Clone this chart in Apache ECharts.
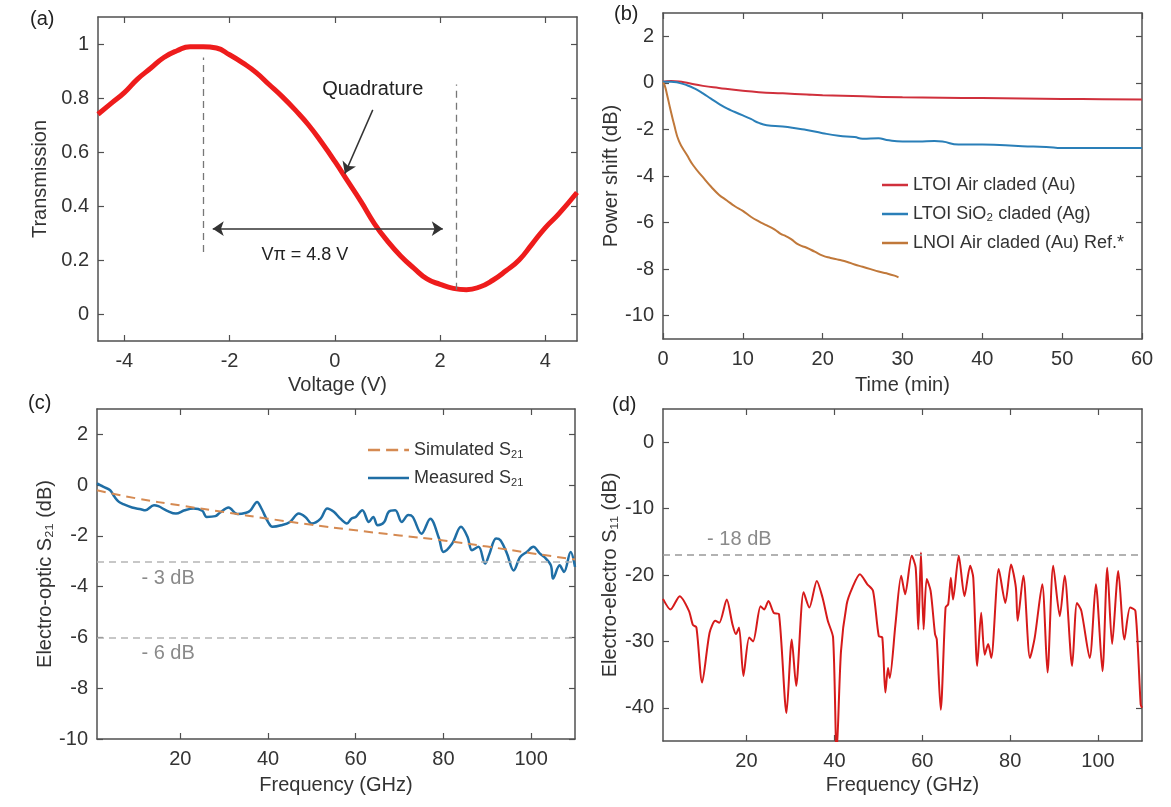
<!DOCTYPE html>
<html><head><meta charset="utf-8">
<script src="https://cdn.jsdelivr.net/npm/echarts@6/dist/echarts.min.js"></script>
<style>html,body{margin:0;padding:0;background:#fff}#c{width:1171px;height:807px}</style>
</head><body><div id="c"></div>
<script>
// ---------- Panel (a): transmission vs voltage ----------
const voltageV = [-4.5,-4.25,-4,-3.75,-3.5,-3.25,-3,-2.75,-2.5,-2.25,-2,-1.75,-1.5,-1.25,-1,-0.75,-0.5,-0.25,0,0.25,0.5,0.75,1,1.25,1.5,1.75,2,2.25,2.5,2.75,3,3.25,3.5,3.75,4,4.25,4.6];
const transmission = [0.74,0.78,0.82,0.87,0.91,0.95,0.975,0.99,0.99,0.985,0.96,0.93,0.895,0.85,0.805,0.755,0.70,0.635,0.565,0.49,0.415,0.335,0.27,0.215,0.17,0.13,0.11,0.095,0.09,0.10,0.125,0.16,0.20,0.26,0.32,0.37,0.45];
const aXTicks = [-4,-2,0,2,4];
const aYTicks = [0,0.2,0.4,0.6,0.8,1];

// ---------- Panel (b): power shift vs time ----------
const bXTicks = [0,10,20,30,40,50,60];
const bYTicks = [-10,-8,-6,-4,-2,0,2];
const redName = 'LTOI Air claded (Au)';
const redTime = [0,1,2,3,5,7,10,12,15,18,20,25,30,35,40,45,50,55,60];
const redShift = [0.05,0.08,0.06,0.0,-0.13,-0.22,-0.34,-0.4,-0.45,-0.5,-0.53,-0.58,-0.62,-0.64,-0.65,-0.67,-0.69,-0.7,-0.72];
const blueName = 'LTOI SiO₂ claded (Ag)';
const blueTime = [0,1,2,3,4,5,6,7,8,9,10,11,12,13,15,17,18,20,22,24,25,27,28,30,32,34,35,37,40,45,48,50,55,60];
const blueShift = [0.05,0.05,0.0,-0.1,-0.25,-0.45,-0.68,-0.9,-1.1,-1.25,-1.4,-1.55,-1.72,-1.82,-1.87,-1.97,-2.02,-2.16,-2.27,-2.33,-2.4,-2.38,-2.45,-2.52,-2.52,-2.5,-2.52,-2.65,-2.65,-2.72,-2.75,-2.8,-2.8,-2.8];
const orangeName = 'LNOI Air claded (Au) Ref.*';
const orangeTime = [0,0.2,0.5,0.9,1.4,2,3,3.8,5,6,7,8,9,10,11,12,13,14,14.8,15.2,16,17,18,19,20,21,22,23,24,25,26,27,28,29,29.5];
const orangeShift = [0.0,-0.1,-0.5,-1.1,-1.8,-2.5,-3.1,-3.55,-4.05,-4.45,-4.8,-5.05,-5.3,-5.5,-5.75,-5.95,-6.12,-6.3,-6.5,-6.55,-6.7,-6.95,-7.08,-7.25,-7.42,-7.52,-7.6,-7.68,-7.8,-7.9,-8.0,-8.1,-8.18,-8.28,-8.35];

// ---------- Panel (c): electro-optic S21 ----------
const cXTicks = [20,40,60,80,100];
const cYTicks = [-10,-8,-6,-4,-2,0,2];
const simFreq = [1,10,20,30,40,50,60,70,80,90,100,110];
const simS21 = [-0.2,-0.52,-0.8,-1.06,-1.32,-1.56,-1.78,-1.98,-2.18,-2.42,-2.68,-2.93];
const measFreq = [1,2.5,4,5,6,7,9,11,12,14,15,17,19,21,23,25,26,28,29,31,33,35,36,37.5,38.5,40,41,43,45,47,48.5,50,52,53.5,55,56.5,58,59,60,61.5,63,64,65,66.5,67.5,69,70.5,72,73,75,77,79,80,82,84,85.5,86.5,88,89.5,90.5,92,93,94.5,96,97.5,99,100.5,102,103,104.5,105,106.5,107.5,109,110];
const measS21 = [0.07,-0.07,-0.2,-0.46,-0.66,-0.75,-0.88,-0.95,-0.99,-0.79,-0.83,-1.01,-1.12,-0.99,-0.92,-1.01,-1.25,-1.22,-1.09,-0.88,-1.14,-1.09,-0.99,-0.66,-0.92,-1.45,-1.64,-1.58,-1.45,-1.12,-1.25,-1.51,-1.32,-0.92,-1.05,-1.32,-1.51,-1.32,-1.25,-0.99,-1.45,-1.25,-1.58,-1.45,-1.05,-0.99,-1.45,-1.18,-1.25,-1.91,-1.32,-2.1,-2.63,-2.3,-1.64,-2.04,-2.56,-2.43,-3.09,-2.7,-2.1,-2.17,-2.7,-3.36,-2.83,-2.63,-2.43,-2.7,-2.83,-3.16,-3.68,-3.16,-3.42,-2.63,-3.22];
const cRefLevels = [-3,-6];

// ---------- Panel (d): electro-electro S11 ----------
const dXTicks = [20,40,60,80,100];
const dYTicks = [-40,-30,-20,-10,0];
const s11Freq = [1,2.7,4.8,6.9,7.8,8.6,9.9,11.6,12.9,13.8,15.5,16.8,17.6,18.3,19.3,20.6,21.5,23.2,24,25,26.2,27.4,29.1,30.3,31.3,33,34.3,36,37.3,38.5,39.7,40.5,41.5,42.8,44.1,45.8,47.5,48.8,50.1,50.9,51.6,52.2,52.6,53.9,55.2,56.1,57.6,58.5,59.1,59.7,60.3,61,61.9,62.9,63.3,64.2,65.3,65.9,66.5,67,68.3,69.6,70.9,71.6,72.5,73.4,74.2,75,75.7,77.4,78.9,80.2,81.3,81.7,83,84.5,85.6,87.3,88.5,89.8,91.3,92.4,94.1,95.2,96.2,98.1,99.5,101,102.1,103.2,104.6,106,107.3,108.5,109.7,110];
const s11dB = [-23.6,-25.2,-23.2,-25.4,-27.5,-27.9,-36.2,-28.7,-26.9,-27.2,-23.7,-27.4,-28.9,-27.9,-35.2,-29.4,-30,-24.7,-25.2,-23.9,-25.7,-25.9,-40.8,-29.7,-36.7,-22.6,-24.9,-20.9,-23.4,-26.9,-29.4,-47,-31.5,-24.4,-21.9,-19.9,-21.4,-22.4,-29.2,-29.4,-37.7,-34,-35.5,-27.4,-20.1,-22.9,-17.1,-18.9,-28.2,-16.6,-28.2,-20.6,-22.4,-28.9,-29.7,-40.3,-24.9,-24.4,-20.4,-23.7,-17.1,-23.2,-18.6,-20.4,-33.7,-25.7,-32,-30.4,-32.5,-19.1,-24.2,-18.4,-21.9,-26.9,-20.1,-32.5,-29.4,-21.4,-34.7,-18.6,-26.2,-20.1,-33.7,-24.2,-25.4,-32.5,-21.4,-34.5,-18.9,-30.4,-19.4,-29.7,-24.9,-25.4,-39.5,-40];
const dRefLevel = -17;

const FONT = '"Liberation Sans", Arial, Helvetica, sans-serif';
const AX = '#505050';
const TXT = '#333';
function zip(xs, ys){ return xs.map((x,i)=>[x, ys[i]]); }

function xPair(gi, min, max, ticks, name, gap){
  const line = {show:true, onZero:false, lineStyle:{color:AX, width:1.5}};
  const tick = {show:true, inside:true, length:6, customValues:ticks, lineStyle:{color:AX, width:1.2}};
  return [
    {type:'value', gridIndex:gi, min, max, position:'bottom', splitLine:{show:false}, axisLine:line, axisTick:tick,
     name, nameLocation:'middle', nameGap:gap, nameTextStyle:{fontSize:20, color:TXT, fontFamily:FONT},
     axisLabel:{show:true, customValues:ticks, fontSize:20, color:TXT, fontFamily:FONT, margin:10}},
    {type:'value', gridIndex:gi, min, max, position:'top', splitLine:{show:false}, axisLine:line, axisTick:tick, axisLabel:{show:false}}
  ];
}
function yPair(gi, min, max, ticks, name, gap){
  const line = {show:true, onZero:false, lineStyle:{color:AX, width:1.5}};
  const tick = {show:true, inside:true, length:6, customValues:ticks, lineStyle:{color:AX, width:1.2}};
  return [
    {type:'value', gridIndex:gi, min, max, position:'left', splitLine:{show:false}, axisLine:line, axisTick:tick,
     name, nameLocation:'middle', nameGap:gap, nameTextStyle:{fontSize:20, color:TXT, fontFamily:FONT},
     axisLabel:{show:true, customValues:ticks, fontSize:20, color:TXT, fontFamily:FONT, margin:9}},
    {type:'value', gridIndex:gi, min, max, position:'right', splitLine:{show:false}, axisLine:line, axisTick:tick, axisLabel:{show:false}}
  ];
}
function textMark(x, y, text, size, color, pos){
  return {coord:[x,y], symbol:'circle', symbolSize:0,
    label:{show:true, position:pos||'inside', formatter:text, fontSize:size, color:color, fontFamily:FONT}};
}

const chart = echarts.init(document.getElementById('c'), null, {renderer:'canvas'});
const dashGray = {color:'#777', type:[7,5], width:1.3};
const arrowStyle = {color:'#333', type:'solid', width:1.5};
const SOLID_ICON = 'rect';
const DASH_ICON = 'path://M0,0h10v2h-10z M15,0h10v2h-10z M30,0h4v2h-4z';

const option = {
  animation:false,
  backgroundColor:'#fff',
  grid:[
    {left:98, top:17, width:479, height:324},
    {left:663, top:13, width:479, height:326},
    {left:97, top:409, width:478, height:330},
    {left:663, top:409, width:479, height:332}
  ],
  xAxis:[].concat(
    xPair(0, -4.5, 4.6, aXTicks, 'Voltage (V)', 34),
    xPair(1, 0, 60, bXTicks, 'Time (min)', 36),
    xPair(2, 1, 110, cXTicks, 'Frequency (GHz)', 36),
    xPair(3, 1, 110, dXTicks, 'Frequency (GHz)', 34)
  ),
  yAxis:[].concat(
    yPair(0, -0.1, 1.1, aYTicks, 'Transmission', 48),
    yPair(1, -11, 3, bYTicks, 'Power shift (dB)', 36),
    yPair(2, -10, 3, cYTicks, 'Electro-optic S₂₁ (dB)', 42),
    yPair(3, -45, 5, dYTicks, 'Electro-electro S₁₁ (dB)', 43)
  ),
  legend:[
    {data:[{name:redName, icon:SOLID_ICON},{name:blueName, icon:SOLID_ICON},{name:orangeName, icon:SOLID_ICON}],
     orient:'vertical', left:882, top:176, padding:0, itemWidth:26, itemHeight:2.5, itemGap:11,
     selectedMode:false, textStyle:{fontSize:18, color:TXT, fontFamily:FONT, lineHeight:18}},
    {data:[{name:'Simulated S21', icon:DASH_ICON},{name:'Measured S21', icon:SOLID_ICON}],
     orient:'vertical', left:368, top:440, padding:0, itemWidth:41, itemHeight:2.5, itemGap:8,
     selectedMode:false,
     formatter:n=>n.replace('S21','S{sub|21}'),
     textStyle:{fontSize:18, color:TXT, fontFamily:FONT, lineHeight:20,
       rich:{sub:{fontSize:11, color:TXT, fontFamily:FONT, verticalAlign:'bottom', lineHeight:11}}}}
  ],
  graphic:[
    {type:'text', left:30, top:9, style:{text:'(a)', fontSize:20, fill:'#222', fontFamily:FONT}},
    {type:'text', left:614, top:4, style:{text:'(b)', fontSize:20, fill:'#222', fontFamily:FONT}},
    {type:'text', left:28, top:393, style:{text:'(c)', fontSize:20, fill:'#222', fontFamily:FONT}},
    {type:'text', left:612, top:395, style:{text:'(d)', fontSize:20, fill:'#222', fontFamily:FONT}}
  ],
  series:[
    {type:'line', name:'Transmission', xAxisIndex:0, yAxisIndex:0, data:zip(voltageV, transmission), smooth:true,
     symbol:'none', lineStyle:{color:'#ee1c1c', width:5},
     markLine:{silent:true, animation:false, symbolSize:11, label:{show:false},
       data:[
         [{coord:[-2.5,0.23], symbol:'none', lineStyle:dashGray},{coord:[-2.5,0.95], symbol:'none', lineStyle:dashGray}],
         [{coord:[2.3,0.09], symbol:'none', lineStyle:dashGray},{coord:[2.3,0.85], symbol:'none', lineStyle:dashGray}],
         [{coord:[-2.32,0.316], symbol:'arrow', lineStyle:arrowStyle},{coord:[2.05,0.316], symbol:'arrow', lineStyle:arrowStyle}],
         [{coord:[0.72,0.756], symbol:'none', lineStyle:arrowStyle},{coord:[0.19,0.52], symbol:'arrow', lineStyle:arrowStyle}]
       ]},
     markPoint:{silent:true, animation:false, data:[
       textMark(0.72, 0.83, 'Quadrature', 20, '#222'),
       textMark(-0.57, 0.22, 'Vπ = 4.8 V', 18, '#222')
     ]}},
    {type:'line', name:redName, xAxisIndex:2, yAxisIndex:2, data:zip(redTime, redShift), smooth:true, symbol:'none',
     itemStyle:{color:'#d0303c'}, lineStyle:{color:'#d0303c', width:2}},
    {type:'line', name:blueName, xAxisIndex:2, yAxisIndex:2, data:zip(blueTime, blueShift), smooth:true, symbol:'none',
     itemStyle:{color:'#2a7fb8'}, lineStyle:{color:'#2a7fb8', width:2}},
    {type:'line', name:orangeName, xAxisIndex:2, yAxisIndex:2, data:zip(orangeTime, orangeShift), smooth:true, symbol:'none',
     itemStyle:{color:'#c0783a'}, lineStyle:{color:'#c0783a', width:2}},
    {type:'line', name:'Simulated S21', xAxisIndex:4, yAxisIndex:4, data:zip(simFreq, simS21), smooth:true, symbol:'none',
     itemStyle:{color:'#d58a52'}, lineStyle:{color:'#d58a52', width:2, type:[9,6]}, z:3},
    {type:'line', name:'Measured S21', xAxisIndex:4, yAxisIndex:4, data:zip(measFreq, measS21), smooth:0.35, symbol:'none',
     itemStyle:{color:'#1f6ea5'}, lineStyle:{color:'#1f6ea5', width:2.5}, z:2,
     markLine:{silent:true, animation:false, symbol:'none', label:{show:false},
       lineStyle:{color:'#b5b5b5', type:[7,5], width:1.5},
       data:cRefLevels.map(v=>({yAxis:v}))},
     markPoint:{silent:true, animation:false, data:[
       textMark(10, -3.68, '- 3 dB', 20, '#8a8a8a', 'right'),
       textMark(10, -6.64, '- 6 dB', 20, '#8a8a8a', 'right')
     ]}},
    {type:'line', name:'S11', xAxisIndex:6, yAxisIndex:6, data:zip(s11Freq, s11dB), smooth:0.25, symbol:'none',
     lineStyle:{color:'#d61a1a', width:2},
     markLine:{silent:true, animation:false, symbol:'none', label:{show:false},
       lineStyle:{color:'#999', type:[7,5], width:1.5}, data:[{yAxis:dRefLevel}]},
     markPoint:{silent:true, animation:false, data:[
       textMark(9.9, -14.6, '- 18 dB', 20, '#8a8a8a', 'right')
     ]}}
  ]
};
chart.setOption(option);
</script>
</body></html>
